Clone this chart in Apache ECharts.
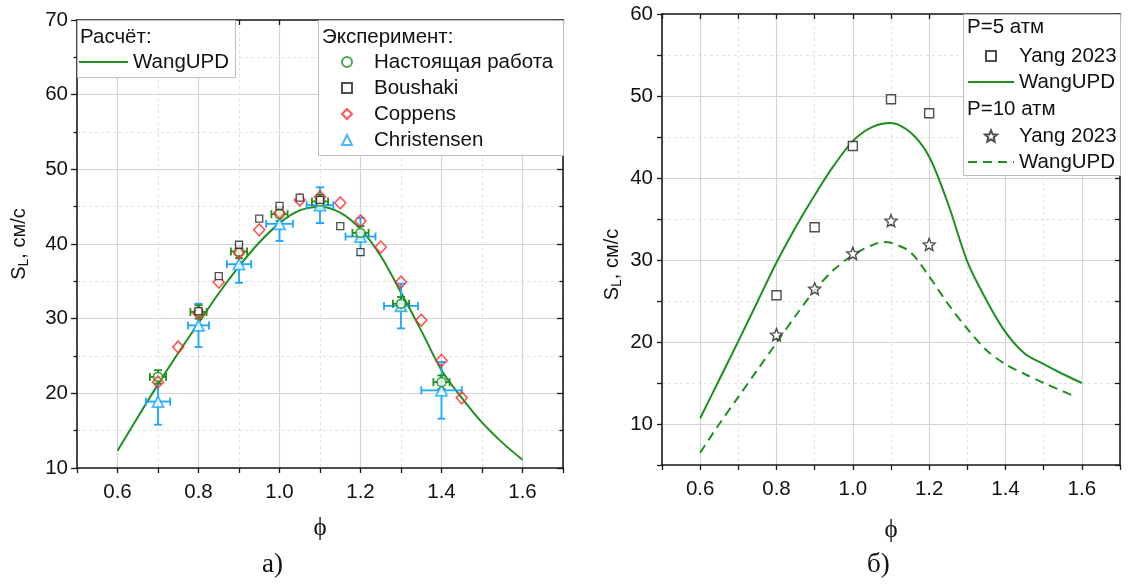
<!DOCTYPE html>
<html><head><meta charset="utf-8">
<script src="https://cdn.jsdelivr.net/npm/echarts@6/dist/echarts.min.js"></script>
<style>html,body{margin:0;padding:0;background:#fff}#c{width:1145px;height:584px}</style>
</head><body><div id="c"></div>
<script>
// ---------- Panel а) data ----------
const calcPhiA = [0.6,0.65,0.7,0.75,0.8,0.85,0.9,0.95,1.0,1.05,1.1,1.15,1.2,1.25,1.3,1.35,1.4,1.45,1.5,1.55,1.6];
const calcSA   = [12.3,16.8,21.2,25.4,29.4,33.4,37.0,40.2,42.8,44.5,45.0,44.2,42.0,38.4,33.5,28.4,23.1,19.4,16.1,13.4,11.1];
const presentPhi = [0.7,0.8,0.9,1.0,1.1,1.2,1.3,1.4];
const presentS   = [22.2,30.9,39.0,44.0,45.7,41.5,32.0,21.5];
const presentXErr= [0.02,0.02,0.02,0.02,0.02,0.02,0.02,0.02];
const presentYErr= [0.9,0.9,0.9,0.9,0.9,0.9,0.9,0.9];
const boushakiPhi = [0.8,0.85,0.9,0.95,1.0,1.05,1.1,1.15,1.2];
const boushakiS   = [31.0,35.7,39.9,43.4,45.1,46.2,45.9,42.4,38.9];
const coppensPhi = [0.7,0.75,0.8,0.85,0.9,0.95,1.0,1.05,1.1,1.15,1.2,1.25,1.3,1.35,1.4,1.45];
const coppensS   = [21.5,26.2,30.7,34.9,38.8,41.9,44.2,45.9,46.3,45.5,43.1,39.6,34.9,29.8,24.4,19.4];
const christPhi  = [0.7,0.8,0.9,1.0,1.1,1.2,1.3,1.4];
const christS    = [18.9,29.1,37.3,42.7,45.2,41.0,31.7,20.4];
const christXErr = [0.03,0.026,0.03,0.033,0.033,0.037,0.042,0.05];
const christYErr = [3.1,2.9,2.5,2.3,2.4,2.5,3.0,3.8];
// ---------- Panel б) data ----------
const calcPhiB   = [0.6,0.65,0.7,0.75,0.8,0.85,0.9,0.95,1.0,1.05,1.1,1.15,1.2,1.25,1.3,1.35,1.4,1.45,1.5,1.55,1.6];
const calcS5     = [10.7,15.4,20.1,24.9,29.7,34.0,37.9,41.5,44.5,46.2,46.7,45.6,42.6,36.8,29.8,25.1,21.2,18.6,17.3,16.1,15.0];
const calcPhi10  = [0.6,0.65,0.7,0.75,0.8,0.85,0.9,0.95,1.0,1.05,1.08,1.1,1.15,1.2,1.25,1.3,1.35,1.4,1.45,1.5,1.55,1.58];
const calcS10    = [6.5,10.0,13.3,16.6,19.9,23.2,26.3,28.8,30.6,31.8,32.2,32.1,31.0,28.0,24.6,21.6,19.0,17.3,16.1,15.0,14.0,13.4];
const yang5Phi  = [0.8,0.9,1.0,1.1,1.2];
const yang5S    = [25.7,34.0,43.9,49.6,47.9];
const yang10Phi = [0.8,0.9,1.0,1.1,1.2];
const yang10S   = [20.9,26.5,30.8,34.8,31.9];

const legendLabels = {calcA:'WangUPD', present:'Настоящая работа', boushaki:'Boushaki', coppens:'Coppens', christ:'Christensen',
  yang5:'Yang 2023', calc5:'WangUPD', yang10:'Yang 2023', calc10:'WangUPD'};

const zip = (a,b) => a.map((v,i)=>[v,b[i]]);
const zip4 = (a,b,c,d) => a.map((v,i)=>[v,b[i],c[i],d[i]]);

const GREEN = '#1f8f1f', RED = '#ff2a2a', BLUE = '#19a7ff', BLK = '#222';
const FONT = 'Liberation Sans, Arial, sans-serif';
const SERIF = 'Liberation Serif, Times New Roman, serif';

function starPath(){
  let p = '';
  for (let i=0;i<10;i++){
    const r = i%2===0 ? 1 : 0.45;
    const a = -Math.PI/2 + i*Math.PI/5;
    p += (i===0?'M':'L') + (r*Math.cos(a)).toFixed(3) + ',' + (r*Math.sin(a)).toFixed(3) + ' ';
  }
  return 'path://' + p + 'Z';
}
const STAR = starPath();

function errRender(color){
  return function(params, api){
    const x=api.value(0), y=api.value(1), ex=api.value(2), ey=api.value(3);
    const l=api.coord([x-ex,y]), r=api.coord([x+ex,y]);
    const t=api.coord([x,y+ey]), b=api.coord([x,y-ey]);
    const cap=4;
    const style={stroke:color, lineWidth:1.8, fill:null};
    const ln=(x1,y1,x2,y2)=>({type:'line', shape:{x1,y1,x2,y2}, style});
    return {type:'group', children:[
      ln(l[0],l[1],r[0],r[1]), ln(l[0],l[1]-cap,l[0],l[1]+cap), ln(r[0],r[1]-cap,r[0],r[1]+cap),
      ln(t[0],t[1],b[0],b[1]), ln(t[0]-cap,t[1],t[0]+cap,t[1]), ln(b[0]-cap,b[1],b[0]+cap,b[1])
    ]};
  };
}

const axisLine = {show:true, lineStyle:{color:'#1a1a1a', width:1.6}};
const tickLbl = {fontSize:20.5, color:'#111', fontFamily:FONT};
const evenLabel = v => (Math.round(v*10)%2===0) ? v.toFixed(1) : '';

function xAxes(gi, gap){
  return [
    {type:'value', gridIndex:gi, position:'bottom', min:0.5, max:1.7, interval:0.1,
     axisLine, axisTick:{show:true, length:5, lineStyle:{color:'#1a1a1a', width:1.3}},
     axisLabel:Object.assign({formatter:evenLabel, margin:14}, tickLbl),
     splitLine:{show:true, lineStyle:{color:['rgba(0,0,0,0)','#d4d4d4'], width:1.2}},
     name:'ϕ', nameLocation:'middle', nameGap:gap,
     nameTextStyle:{fontFamily:SERIF, fontSize:25, color:'#111'}},
    {type:'value', gridIndex:gi, position:'top', min:0.5, max:1.7, interval:0.1,
     axisLine, axisTick:{show:true, inside:true, length:5, lineStyle:{color:'#1a1a1a', width:1.3}},
     axisLabel:{show:false},
     splitLine:{show:true, lineStyle:{color:['#e2e2e2','rgba(0,0,0,0)'], width:1, type:[3,3]}}}
  ];
}
const yName = {name:'S{s|L}, см/с', nameLocation:'middle',
  nameTextStyle:{fontSize:20, color:'#111', fontFamily:FONT,
    rich:{s:{fontSize:14, fontFamily:FONT, color:'#111', padding:[10,0,0,0]}}}};

const legTxt = {fontSize:20.5, lineHeight:22, color:'#111', fontFamily:FONT};
function leg(data, left, top, w, h, gap, pad){
  return {data, left, top, orient:'vertical', padding:0, itemGap:gap, itemWidth:w, itemHeight:h,
    selectedMode:false, z:20, formatter:n=>legendLabels[n],
    textStyle:Object.assign({padding:[0,0,0,pad||0]}, legTxt)};
}
const lineItem = (n, dash) => ({name:n, icon:'inherit',
  itemStyle:{color:'rgba(0,0,0,0)', borderColor:'rgba(0,0,0,0)', borderWidth:0, opacity:0},
  lineStyle:{color:GREEN, width:2, type:dash || 'solid', opacity:1}});

const option = {
  backgroundColor:'#fff',
  animation:false,
  grid:[
    {left:77, top:20, width:486, height:448},
    {left:662, top:14, width:458, height:451}
  ],
  xAxis:[...xAxes(0,48), ...xAxes(1,53)],
  yAxis:[
    Object.assign({type:'value', gridIndex:0, position:'left', min:10, max:70, interval:10,
      axisLine, axisTick:{show:true, length:6, lineStyle:{color:'#1a1a1a', width:1.3}},
      minorTick:{show:true, splitNumber:2, length:3.5, lineStyle:{color:'#1a1a1a', width:1.3}},
      minorSplitLine:{show:true, lineStyle:{color:'#e2e2e2', width:1, type:[3,3]}},
      axisLabel:Object.assign({margin:9}, tickLbl),
      splitLine:{show:true, lineStyle:{color:'#d4d4d4', width:1.2}}, nameGap:46}, yName),
    {type:'value', gridIndex:0, position:'right', min:10, max:70, interval:10,
      axisLine, axisTick:{show:true, inside:true, length:6, lineStyle:{color:'#1a1a1a', width:1.3}},
      minorTick:{show:true, splitNumber:2, length:3.5, lineStyle:{color:'#1a1a1a', width:1.3}},
      axisLabel:{show:false}, splitLine:{show:false}},
    Object.assign({type:'value', gridIndex:1, position:'left', min:5, max:60, interval:5,
      axisLine, axisTick:{show:true, length:5, lineStyle:{color:'#1a1a1a', width:1.3}},
      axisLabel:Object.assign({margin:9, formatter:v=>(v%10===0?String(v):'')}, tickLbl),
      splitLine:{show:true, lineStyle:{color:['rgba(0,0,0,0)','#d4d4d4'], width:1.2}}, nameGap:38}, yName,
      {nameTextStyle:Object.assign({}, yName.nameTextStyle, {padding:[0,50,0,0]})}),
    {type:'value', gridIndex:1, position:'right', min:5, max:60, interval:5,
      axisLine, axisTick:{show:true, inside:true, length:5, lineStyle:{color:'#1a1a1a', width:1.3}},
      axisLabel:{show:false},
      splitLine:{show:true, lineStyle:{color:['#e2e2e2','rgba(0,0,0,0)'], width:1, type:[3,3]}}}
  ],
  legend:[
    leg([lineItem('calcA')], 78, 51, 49, 10, 4, 0),
    leg(['present','boushaki','coppens','christ'], 341, 51, 10, 10, 4, 17),
    leg(['yang5'], 985, 45, 10, 10, 4, 18),
    leg([lineItem('calc5')], 967, 71, 46, 10, 4, 0),
    leg(['yang10'], 984, 125, 12, 12, 4, 17),
    leg([lineItem('calc10', [9,6])], 967, 151, 46, 10, 4, 0)
  ],
  graphic:[
    {type:'rect', z:10, shape:{x:77.5, y:20.5, width:158, height:57}, style:{fill:'#fff', stroke:'#bdbdbd', lineWidth:1}},
    {type:'rect', z:10, shape:{x:318.5, y:20.5, width:245, height:135}, style:{fill:'#fff', stroke:'#bdbdbd', lineWidth:1}},
    {type:'rect', z:10, shape:{x:963.5, y:14.5, width:157, height:161}, style:{fill:'#fff', stroke:'#bdbdbd', lineWidth:1}},
    {type:'text', z:30, left:80, top:27, style:{text:'Расчёт:', fontSize:20.5, fontFamily:FONT, fill:'#111'}},
    {type:'text', z:30, left:322, top:27, style:{text:'Эксперимент:', fontSize:20.5, fontFamily:FONT, fill:'#111'}},
    {type:'text', z:30, left:967, top:17, style:{text:'P=5 атм', fontSize:20.5, fontFamily:FONT, fill:'#111'}},
    {type:'text', z:30, left:967, top:99, style:{text:'P=10 атм', fontSize:20.5, fontFamily:FONT, fill:'#111'}},
    {type:'text', z:30, left:262, top:551, style:{text:'а)', fontSize:27, fontFamily:SERIF, fill:'#111'}},
    {type:'text', z:30, left:867, top:551, style:{text:'б)', fontSize:27, fontFamily:SERIF, fill:'#111'}}
  ],
  series:[
    {name:'calcA', type:'line', xAxisIndex:0, yAxisIndex:0, data:zip(calcPhiA,calcSA), symbol:'none', smooth:0.3,
     lineStyle:{color:GREEN, width:2}, itemStyle:{color:GREEN}, z:3},
    {name:'christErr', type:'custom', xAxisIndex:0, yAxisIndex:0, renderItem:errRender(BLUE), encode:{x:0,y:1},
     data:zip4(christPhi,christS,christXErr,christYErr), z:4},
    {name:'presentErr', type:'custom', xAxisIndex:0, yAxisIndex:0, renderItem:errRender(GREEN), encode:{x:0,y:1},
     data:zip4(presentPhi,presentS,presentXErr,presentYErr), z:5},
    {name:'christ', type:'scatter', xAxisIndex:0, yAxisIndex:0, data:zip(christPhi,christS), symbol:'triangle', symbolSize:11,
     itemStyle:{color:'#fff', borderColor:BLUE, borderWidth:1.8}, z:6},
    {name:'present', type:'scatter', xAxisIndex:0, yAxisIndex:0, data:zip(presentPhi,presentS), symbol:'circle', symbolSize:9,
     itemStyle:{color:'#fff', borderColor:GREEN, borderWidth:1.8}, z:7},
    {name:'coppens', type:'scatter', xAxisIndex:0, yAxisIndex:0, data:zip(coppensPhi,coppensS), symbol:'diamond', symbolSize:[11,12],
     itemStyle:{color:'rgba(255,255,255,0)', borderColor:RED, borderWidth:1.6}, z:8},
    {name:'boushaki', type:'scatter', xAxisIndex:0, yAxisIndex:0, data:zip(boushakiPhi,boushakiS), symbol:'rect', symbolSize:7,
     itemStyle:{color:'#fff', borderColor:BLK, borderWidth:1.3}, z:9},

    {name:'calc5', type:'line', xAxisIndex:2, yAxisIndex:2, data:zip(calcPhiB,calcS5), symbol:'none', smooth:0.3,
     lineStyle:{color:GREEN, width:2}, itemStyle:{color:GREEN}, z:3},
    {name:'calc10', type:'line', xAxisIndex:2, yAxisIndex:2, data:zip(calcPhi10,calcS10), symbol:'none', smooth:0.3,
     lineStyle:{color:GREEN, width:2, type:[9,6]}, itemStyle:{color:GREEN}, z:3},
    {name:'yang5', type:'scatter', xAxisIndex:2, yAxisIndex:2, data:zip(yang5Phi,yang5S), symbol:'rect', symbolSize:9,
     itemStyle:{color:'#fff', borderColor:BLK, borderWidth:1.4}, z:6},
    {name:'yang10', type:'scatter', xAxisIndex:2, yAxisIndex:2, data:zip(yang10Phi,yang10S), symbol:STAR, symbolSize:12,
     itemStyle:{color:'#fff', borderColor:BLK, borderWidth:1.4}, z:6}
  ]
};
const chart = echarts.init(document.getElementById('c'), null, {renderer:'canvas'});
chart.setOption(option);
</script></body></html>
